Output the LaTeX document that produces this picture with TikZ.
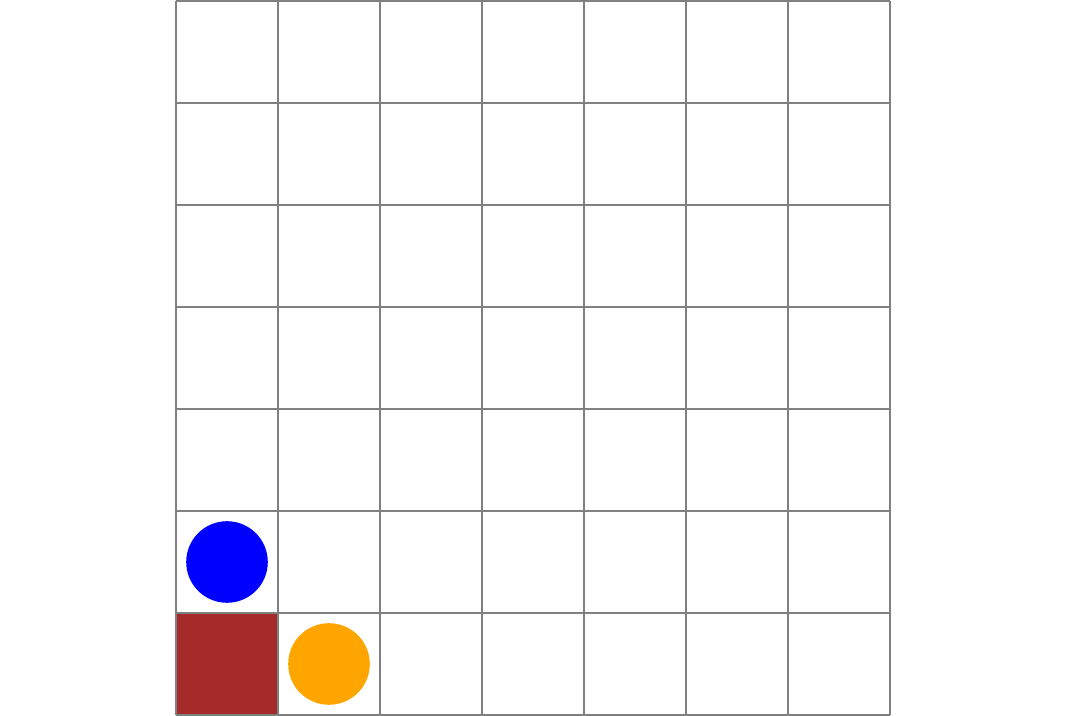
\documentclass[tikz,border=0pt]{standalone}
\definecolor{wall}{RGB}{165,42,42}
\definecolor{agentb}{RGB}{0,0,255}
\definecolor{goalo}{RGB}{255,165,0}
\definecolor{gridg}{RGB}{128,128,128}
\begin{document}
\begin{tikzpicture}[x=1cm,y=1cm,
  cellfill/.style={fill=wall,draw=none,minimum size=1cm,inner sep=0pt,outer sep=0pt},
  token/.style={circle,draw=none,minimum size=0.8cm,inner sep=0pt}]
\useasboundingbox (-1.7255,-0.0098) rectangle (8.7255,7.0098);
\node[cellfill] (wallcell) at (0.5,0.5) {};
\draw[gridg,line width=0.3pt] (0,0) grid (7,7);
\node[token,fill=agentb] (agent) at (0.5,1.5) {};
\node[token,fill=goalo] (goal) at (1.5,0.5) {};
\end{tikzpicture}
\end{document}
